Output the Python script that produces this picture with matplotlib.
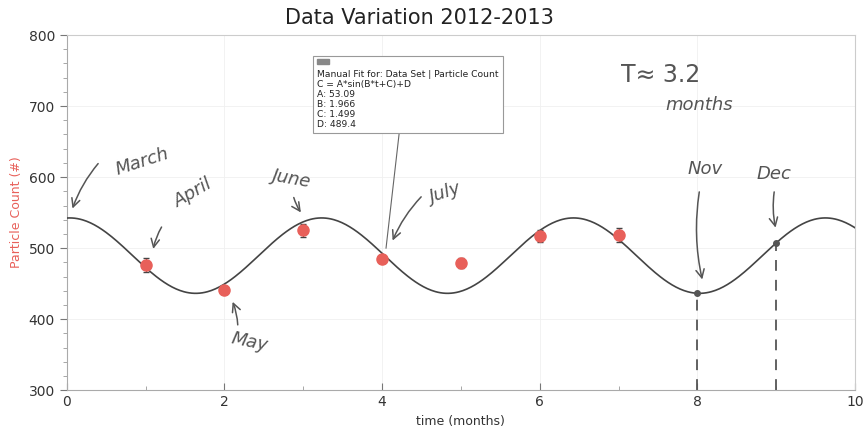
import numpy as np
import matplotlib
matplotlib.use("Agg")
import matplotlib.pyplot as plt
from matplotlib.ticker import MultipleLocator

# measured particle counts (month index from March 2012)
months = [1, 2, 3, 4, 5, 6, 7]
counts = [476, 441, 525, 485, 479, 517, 518]
count_err = [10, 6, 9, 6, 7, 8, 10]

# manual sine fit C = A*sin(B*t+C)+D
fit_A, fit_B, fit_C, fit_D = 53.09, 1.966, 1.499, 489.4
fit_marks = [8, 9]

# hand-written notes: label, text pos, arrow start, arrow end, rotation
notes = [
    ("March", (0.95, 622), (0.42, 622), (0.06, 552), 18),
    ("April", (1.6, 578), (1.22, 533), (1.09, 495), 30),
    ("May", (2.32, 368), (2.17, 388), (2.09, 428), -12),
    ("June", (2.85, 598), (2.87, 575), (2.99, 547), -10),
    ("July", (4.8, 577), (4.52, 575), (4.12, 507), 18),
    ("Nov", (8.1, 612), (8.03, 583), (8.07, 452), 0),
    ("Dec", (8.97, 604), (8.98, 583), (9.0, 525), 0),
]


def fit(t):
    return fit_A * np.sin(fit_B * t + fit_C) + fit_D


fig = plt.figure(figsize=(8.68, 4.33), dpi=100)
ax = fig.add_axes([0.077, 0.099, 0.908, 0.82])

t = np.linspace(0, 10, 600)
ax.plot(t, fit(t), color="#444444", lw=1.2, zorder=3)

ax.errorbar(months, counts, yerr=count_err, fmt="o", color="#e8605a",
            ms=8, ecolor="#444444", elinewidth=0.8, capsize=2, zorder=4)

for m in fit_marks:
    ax.plot(m, fit(m), "o", color="#555555", ms=4, zorder=5)
    ax.plot([m, m], [300, fit(m)], ls=(0, (6, 5)), color="#555555", lw=1.3)

hand = dict(color="#555555", style="italic", fontsize=13, family="DejaVu Sans")
for label, txt, start, end, rot in notes:
    ax.text(txt[0], txt[1], label, rotation=rot, ha="center", va="center", **hand)
    ax.annotate("", xy=end, xytext=start,
                arrowprops=dict(arrowstyle="->", color="#555555", lw=1.1,
                                mutation_scale=15,
                                connectionstyle="arc3,rad=0.1"))

ax.text(7.53, 744, "T\u2248 3.2", ha="center", va="center",
        color="#555555", fontsize=17, family="DejaVu Sans")
ax.text(8.02, 702, "months", ha="center", va="center", **hand)

# fit info box (blank first row holds the little header icon)
box_txt = ("\nManual Fit for: Data Set | Particle Count\nC = A*sin(B*t+C)+D\n"
           f"A: {fit_A}\nB: {fit_B}\nC: {fit_C}\nD: {fit_D}")
ax.text(0.318, 0.93, box_txt, transform=ax.transAxes, fontsize=6.6,
        va="top", ha="left", linespacing=1.15, color="#222222",
        bbox=dict(boxstyle="square,pad=0.45", fc="white", ec="#999999", lw=0.8),
        zorder=6)
ax.add_patch(plt.Rectangle((0.317, 0.918), 0.016, 0.016, transform=ax.transAxes,
                           color="#888888", zorder=7))
ax.plot([4.22, 4.05], [665, 500], color="#666666", lw=0.8, zorder=2)

ax.set_xlim(0, 10)
ax.set_ylim(300, 800)
ax.xaxis.set_major_locator(MultipleLocator(2))
ax.xaxis.set_minor_locator(MultipleLocator(1))
ax.yaxis.set_major_locator(MultipleLocator(100))
ax.yaxis.set_minor_locator(MultipleLocator(20))
ax.tick_params(which="major", length=5, color="#777777", labelsize=10,
               labelcolor="#333333")
ax.tick_params(axis="x", which="both", direction="in")
ax.tick_params(which="minor", length=3, color="#999999")
for s in ax.spines.values():
    s.set_color("#cccccc")
ax.spines["left"].set_color("#aaaaaa")
ax.spines["bottom"].set_color("#aaaaaa")
ax.grid(True, color="#f0f0f0", lw=0.6)

ax.set_xlabel("time (months)", fontsize=9, color="#333333")
ax.set_ylabel("Particle Count (#)", fontsize=9, color="#e8605a")
ax.set_title("Data Variation 2012-2013", fontsize=15, color="#222222",
             pad=8, x=0.448)

fig.savefig("out.png", dpi=100)
